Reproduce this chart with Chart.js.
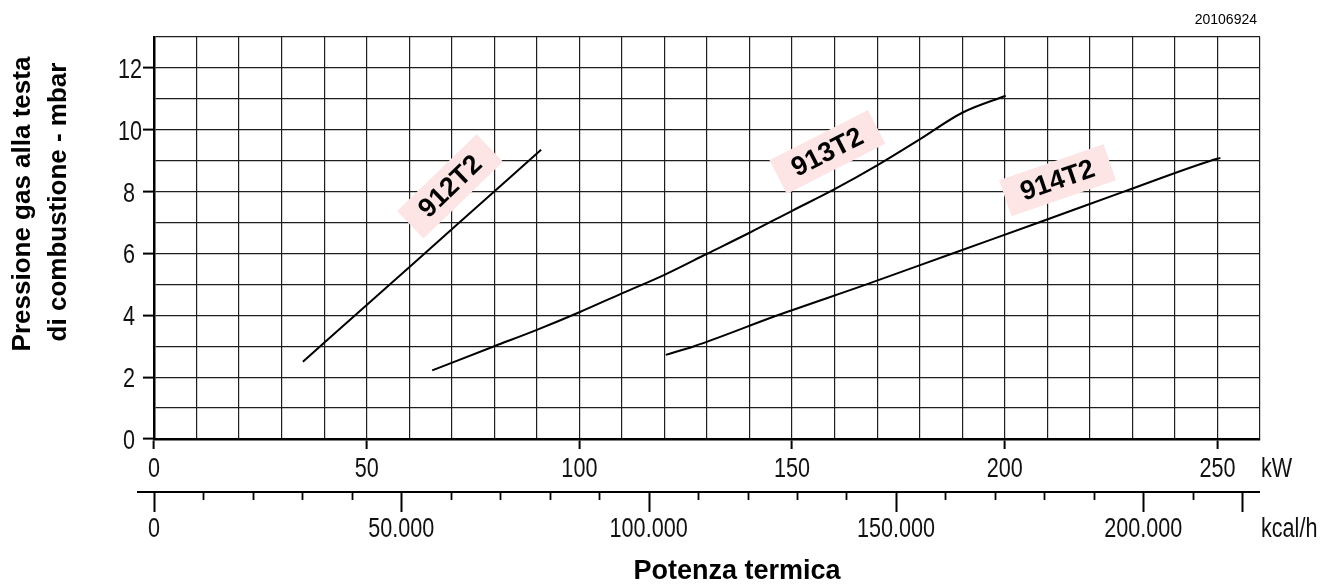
<!DOCTYPE html>
<html lang="it">

<head>
    <meta charset="UTF-8">
    <title>Pressione gas alla testa di combustione</title>
    <style>
        html, body {
            margin: 0;
            padding: 0;
            background: #fff;
        }

        #contenitore {
            width: 1320px;
            height: 586px;
            position: relative;
        }
    </style>
</head>

<body>
    <div id="contenitore">
        <canvas id="grafico"></canvas>
    </div>

    <script src="https://cdn.jsdelivr.net/npm/chart.js@4.4.1/dist/chart.umd.min.js"></script>
    <script>
        const kw912 = [35, 50, 70, 91];
        const mbar912 = [2.5, 4.33, 6.78, 9.35];

        const kw913 = [65.4, 80, 90, 100, 110, 120, 130, 140, 150, 160, 170, 180, 190, 200.2];
        const mbar913 = [2.22, 3.0, 3.53, 4.1, 4.71, 5.31, 5.99, 6.67, 7.38, 8.08, 8.85, 9.69, 10.55, 11.1];

        const kw914 = [120.3, 127, 146.6, 167.5, 187.7, 208, 228, 248.4, 250.7];
        const mbar914 = [2.72, 3, 4, 5, 6, 7, 8, 9, 9.09];

        const modelli = ['912T2', '913T2', '914T2'];

        // scale
        const kwMax = 260;
        const mbarMax = 13;
        const kcalPerKw = 860;
        const tickKcal = [0, 10000, 20000, 30000, 40000, 50000, 60000, 70000, 80000, 90000, 100000,
            110000, 120000, 130000, 140000, 150000, 160000, 170000, 180000, 190000, 200000, 210000, 220000];
        const tickKcalLunghi = [0, 50000, 100000, 150000, 200000, 220000];
        const etichetteKcal = [0, 50000, 100000, 150000, 200000];

        // dove stanno le etichette dei modelli (in unita del grafico)
        const posEtichette = [
            { kw: 69.6, mbar: 8.17, angolo: -44 },
            { kw: 158.3, mbar: 9.28, angolo: -27 },
            { kw: 212.4, mbar: 8.37, angolo: -19 },
        ];

        const fontBase = "'Liberation Sans', Arial, sans-serif";

        function punti(xs, ys) {
            return xs.map((v, i) => ({ x: v, y: ys[i] }));
        }

        function formattaKcal(v) {
            return String(v).replace(/\B(?=(\d{3})+(?!\d))/g, '.');
        }

        // testo "condensato" come nel disegno originale
        function testoStretto(ctx, testo, px, py, allinea) {
            ctx.save();
            ctx.translate(px, py);
            ctx.scale(0.8, 1);
            ctx.textAlign = allinea;
            ctx.fillText(testo, 0, 0);
            ctx.restore();
        }

        const testi = {
            id: 'testi',
            afterDatasetsDraw(chart) {
                const { ctx, scales: { x, y } } = chart;
                ctx.save();
                ctx.font = 'bold 27px ' + fontBase;
                ctx.textAlign = 'center';
                ctx.textBaseline = 'middle';
                modelli.forEach((nome, i) => {
                    const p = posEtichette[i];
                    ctx.save();
                    ctx.translate(x.getPixelForValue(p.kw), y.getPixelForValue(p.mbar));
                    ctx.rotate(p.angolo * Math.PI / 180);
                    const w = ctx.measureText(nome).width + 34;
                    ctx.fillStyle = '#fde4e5';
                    ctx.fillRect(-w / 2, -19, w, 38);
                    ctx.fillStyle = '#000';
                    ctx.fillText(nome, 0, 1);
                    ctx.restore();
                });
                ctx.restore();
            },
            afterDraw(chart) {
                const { ctx, chartArea, scales: { x, x2, y } } = chart;
                ctx.save();

                // asse kcal/h
                const yk = x2.top;
                ctx.strokeStyle = '#000';
                ctx.lineWidth = 2;
                ctx.beginPath();
                ctx.moveTo(chartArea.left - 17, yk);
                ctx.lineTo(chartArea.right, yk);
                ctx.stroke();
                tickKcal.forEach(v => {
                    const px = Math.round(x2.getPixelForValue(v)) + 0.5;
                    const lungo = tickKcalLunghi.includes(v);
                    ctx.lineWidth = lungo ? 2 : 1.8;
                    ctx.beginPath();
                    ctx.moveTo(px, yk);
                    ctx.lineTo(px, yk + (lungo ? 20 : 8));
                    ctx.stroke();
                });

                // etichette delle scale
                ctx.fillStyle = '#111';
                ctx.font = '27px ' + fontBase;
                ctx.textBaseline = 'alphabetic';
                y.ticks.forEach(t => {
                    if (t.value % 2 !== 0) return;
                    const dx = t.value < 10 ? 7 : 0;
                    testoStretto(ctx, String(t.value), y.right - 12 - dx, y.getPixelForValue(t.value) + 10, 'right');
                });
                x.ticks.forEach(t => {
                    if (t.value % 50 !== 0 || t.value >= kwMax) return;
                    testoStretto(ctx, String(t.value), x.getPixelForValue(t.value), x.top + 38, 'center');
                });
                etichetteKcal.forEach(v => {
                    testoStretto(ctx, formattaKcal(v), x2.getPixelForValue(v), x2.top + 45, 'center');
                });
                testoStretto(ctx, 'kW', chartArea.right + 1, x.top + 38, 'left');
                testoStretto(ctx, 'kcal/h', chartArea.right + 1, x2.top + 45, 'left');

                // titoli assi
                ctx.fillStyle = '#000';
                ctx.font = 'bold 27px ' + fontBase;
                ctx.textAlign = 'center';
                ctx.textBaseline = 'middle';
                ctx.fillText('Potenza termica', 737, 572);

                ctx.font = 'bold 26px ' + fontBase;
                ctx.save();
                ctx.translate(23, 204);
                ctx.rotate(-Math.PI / 2);
                ctx.fillText('Pressione gas alla testa', 0, 0);
                ctx.restore();
                ctx.save();
                ctx.translate(59, 202);
                ctx.rotate(-Math.PI / 2);
                ctx.fillText('di combustione - mbar', 0, 0);
                ctx.restore();

                // codice disegno
                ctx.font = '14px ' + fontBase;
                ctx.textAlign = 'right';
                ctx.fillText('20106924', 1257, 20);

                ctx.restore();
            }
        };

        const serie = [
            punti(kw912, mbar912),
            punti(kw913, mbar913),
            punti(kw914, mbar914),
        ];

        const ctx = document.getElementById('grafico').getContext('2d');
        const grafico = new Chart(ctx, {
            type: 'line',
            data: {
                datasets: serie.map((dati, i) => ({
                    label: modelli[i],
                    data: dati,
                    borderColor: '#000',
                    borderWidth: 2,
                    pointRadius: 0,
                    fill: false,
                    cubicInterpolationMode: 'monotone',
                })),
            },
            options: {
                responsive: true,
                maintainAspectRatio: false,
                animation: false,
                layout: {
                    padding: { left: 0, right: 60, top: 37, bottom: 0 },
                },
                plugins: {
                    legend: { display: false },
                    tooltip: { enabled: false },
                },
                scales: {
                    x: {
                        type: 'linear',
                        position: 'bottom',
                        min: 0,
                        max: kwMax,
                        afterFit: (s) => { s.height = 53; },
                        ticks: { stepSize: 10, autoSkip: false, display: false },
                        grid: {
                            color: '#1e1e1e',
                            lineWidth: 1.2,
                            tickLength: 10,
                            tickWidth: 2,
                            tickColor: (c) => c.tick && c.tick.value % 50 === 0 && c.tick.value < kwMax ? '#000' : 'rgba(0,0,0,0)',
                        },
                        border: { display: true, color: '#000', width: 2.5 },
                    },
                    x2: {
                        type: 'linear',
                        position: 'bottom',
                        min: 0,
                        max: kwMax * kcalPerKw,
                        afterFit: (s) => { s.height = 94; },
                        ticks: { display: false },
                        grid: { display: false },
                        border: { display: false },
                    },
                    y: {
                        type: 'linear',
                        min: 0,
                        max: mbarMax,
                        afterFit: (s) => { s.width = 154; },
                        ticks: { stepSize: 1, display: false },
                        grid: {
                            color: '#1e1e1e',
                            lineWidth: 1.2,
                            tickLength: 11,
                            tickWidth: 2,
                            tickColor: (c) => c.tick && c.tick.value % 2 === 0 ? '#000' : 'rgba(0,0,0,0)',
                        },
                        border: { display: true, color: '#000', width: 2.5 },
                    },
                },
            },
            plugins: [testi],
        });
    </script>
</body>

</html>
